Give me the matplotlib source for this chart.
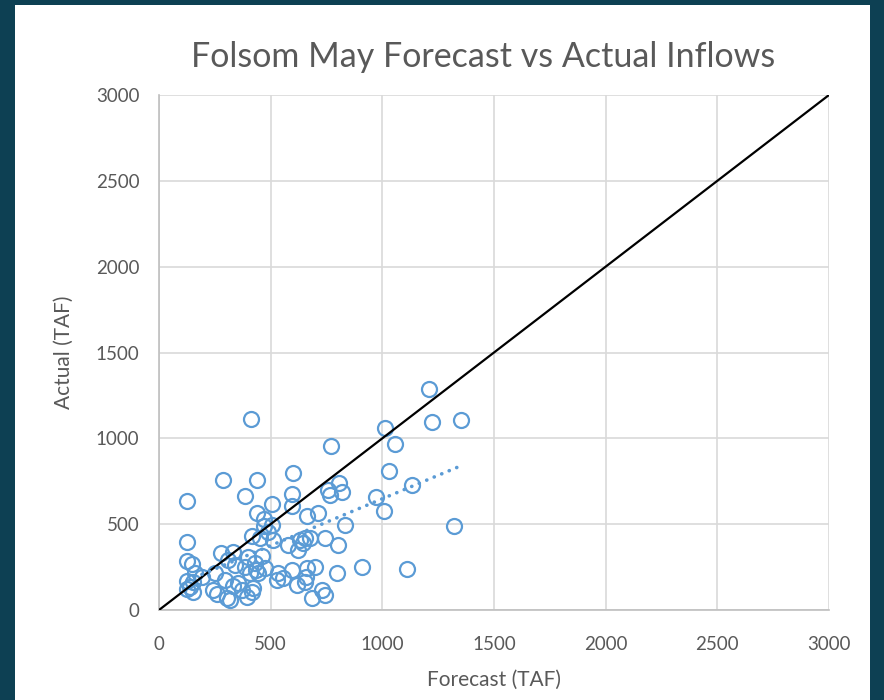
import numpy as np
import matplotlib
matplotlib.use("Agg")
import matplotlib.pyplot as plt
from matplotlib.patches import Rectangle

# forecast vs actual May inflows (TAF)
forecast = [125, 125, 125, 148, 125, 152, 139, 125, 152, 161,
            193, 251, 242, 260, 278, 309, 296, 305, 318, 287,
            331, 340, 331, 372, 385, 385, 412, 439, 416, 430,
            407, 421, 416, 394, 439, 470, 506, 470, 488, 452,
            510, 506, 461, 443, 475, 528, 533, 555, 596, 578,
            622, 631, 600, 596, 596, 654, 663, 712, 663, 654,
            618, 699, 730, 743, 685, 743, 802, 797, 757, 766,
            806, 819, 770, 833, 909, 972, 1008, 1030, 1012, 1057,
            1133, 1111, 1209, 1222, 1352, 1321,
            354, 434, 676, 645, 658, 398]
actual = [635, 396, 285, 268, 169, 163, 134, 122, 105, 216,
          192, 216, 117, 93, 332, 291, 175, 70, 58, 757,
          338, 262, 140, 117, 250, 664, 1113, 757, 431, 274,
          216, 128, 105, 76, 565, 530, 495, 489, 454, 419,
          408, 617, 315, 216, 245, 175, 216, 186, 233, 379,
          350, 408, 798, 676, 606, 419, 548, 565, 245, 163,
          146, 250, 117, 87, 70, 419, 379, 216, 699, 670,
          740, 687, 955, 495, 250, 658, 577, 810, 1060, 967,
          728, 239, 1287, 1095, 1107, 489,
          155, 233, 419, 390, 192, 309]

ticks = [0, 500, 1000, 1500, 2000, 2500, 3000]
title = "Folsom May Forecast vs Actual Inflows"
blue = "#5B9BD5"
grey_text = "#595959"

plt.rcParams["font.family"] = ["Lato", "DejaVu Sans"]

fig = plt.figure(figsize=(8.84, 7.0), dpi=100)
fig.patch.set_facecolor("#0d4053")
# white chart area
panel = Rectangle((15 / 884, 0), 855 / 884, 695 / 700,
                  transform=fig.transFigure, facecolor="white",
                  edgecolor="none", zorder=-10)
fig.add_artist(panel)

ax = fig.add_axes([159 / 884, 1 - 610 / 700, 670 / 884, 515 / 700])
ax.set_facecolor("white")

ax.plot(forecast, actual, linestyle="none", marker="o", markersize=10.8,
        markerfacecolor="none", markeredgecolor=blue, markeredgewidth=1.6,
        zorder=3)

# 1:1 line
ax.plot([0, 3000], [0, 3000], color="black", linewidth=1.6, zorder=4)

# linear trend
fx = np.array(forecast, dtype=float)
fy = np.array(actual, dtype=float)
slope, intercept = np.polyfit(fx, fy, 1)
tx = np.array([fx.min(), fx.max()])
ax.plot(tx, slope * tx + intercept, color=blue, linewidth=2.6,
        linestyle=(0, (0.05, 2.2)), dash_capstyle="round", zorder=5)

ax.set_xlim(0, 3000)
ax.set_ylim(0, 3000)
ax.set_xticks(ticks)
ax.set_yticks(ticks)
ax.grid(True, color="#d9d9d9", linewidth=1.2, zorder=0)
ax.set_axisbelow(True)
for side in ["top", "right"]:
    ax.spines[side].set_visible(False)
for side in ["left", "bottom"]:
    ax.spines[side].set_color("#bfbfbf")
    ax.spines[side].set_linewidth(1.2)
ax.tick_params(length=0, labelsize=13.5, labelcolor=grey_text)
ax.tick_params(axis="y", pad=14)
ax.tick_params(axis="x", pad=19)

ax.set_xlabel("Forecast (TAF)", fontsize=15, color=grey_text, labelpad=12)
ax.set_ylabel("Actual (TAF)", fontsize=15, color=grey_text, labelpad=16)

fig.text(483 / 884, 1 - 57 / 700, title, fontsize=24.5, color=grey_text,
         ha="center", va="center")

fig.savefig("out.png", dpi=100, facecolor=fig.get_facecolor())
